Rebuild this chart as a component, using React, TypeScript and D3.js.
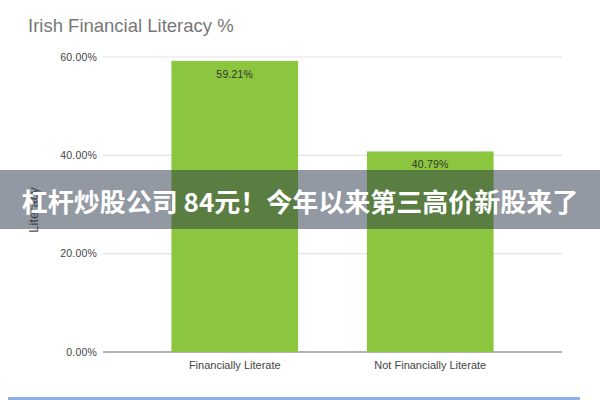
import React from "react";
import * as d3 from "d3";

const title = "Irish Financial Literacy %";
const categories = ["Financially Literate", "Not Financially Literate"];
const values = [59.21, 40.79];
const yTicks = [0, 20, 40, 60];
const yAxisTitle = "Literacy";
const bannerText = "杠杆炒股公司 84元！今年以来第三高价新股来了";

const W = 600;
const H = 400;

export default function App() {
  const x = d3
    .scaleBand<string>()
    .domain(categories)
    .range([103, 562])
    .paddingInner(0.352)
    .paddingOuter(0.35);
  const y = d3.scaleLinear().domain([0, 60]).range([352, 57]);
  const fmt = (v: number) => v.toFixed(2) + "%";
  const font = "Arial, 'Liberation Sans', sans-serif";

  return (
    <svg
      width={W}
      height={H}
      style={{ position: "absolute", left: 0, top: 0, background: "#fff" }}
      fontFamily={font}
    >
      <rect x={0} y={0} width={W} height={H} fill="#fff" />
      <text x={28} y={32} fontSize={18.5} fill="#777">
        {title}
      </text>
      {yTicks.map((t) => (
        <g key={t}>
          <line
            x1={103}
            x2={562}
            y1={y(t)}
            y2={y(t)}
            stroke={t === 0 ? "#9a9a9a" : "#e4e4e4"}
            strokeWidth={t === 0 ? 1.5 : 1.2}
          />
          <text
            x={97}
            y={y(t)}
            dy="0.35em"
            textAnchor="end"
            fontSize={10.5}
            fill="#444"
            letterSpacing={0.2}
          >
            {fmt(t)}
          </text>
        </g>
      ))}
      <text
        transform={`translate(38,210) rotate(-90)`}
        textAnchor="middle"
        fontSize={13}
        fill="#555"
      >
        {yAxisTitle}
      </text>
      {categories.map((c, i) => (
        <g key={c}>
          <rect
            x={x(c)}
            y={y(values[i])}
            width={x.bandwidth()}
            height={y(0) - y(values[i])}
            fill="#8cc63f"
          />
          <text
            x={(x(c) as number) + x.bandwidth() / 2}
            y={y(values[i]) + 17}
            textAnchor="middle"
            fontSize={10.5}
            fill="#333"
            letterSpacing={0.2}
          >
            {fmt(values[i])}
          </text>
          <text
            x={(x(c) as number) + x.bandwidth() / 2}
            y={369}
            textAnchor="middle"
            fontSize={11}
            fill="#444"
          >
            {c}
          </text>
        </g>
      ))}
      <rect x={0} y={170} width={W} height={59} fill="rgba(40,52,70,0.5)" />
      <text
        x={300}
        y={203}
        dy="0.36em"
        textAnchor="middle"
        fontSize={26}
        fontWeight="bold"
        fill="#fff"
        fontFamily="'Noto Sans CJK SC', sans-serif"
      >
        {bannerText}
      </text>
      <line x1={8} x2={580} y1={398.5} y2={398.5} stroke="#8fb0e6" strokeWidth={3} />
    </svg>
  );
}
